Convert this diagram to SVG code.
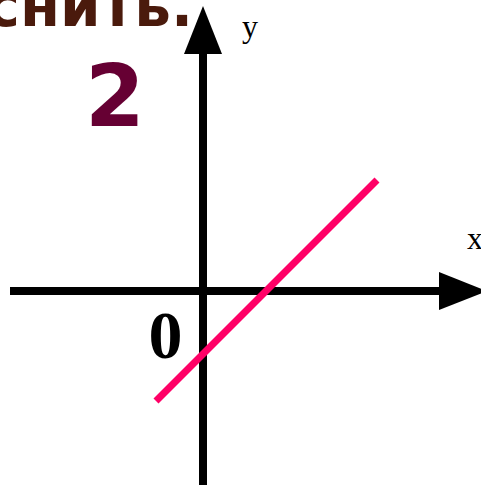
<svg xmlns="http://www.w3.org/2000/svg" width="481" height="485" viewBox="0 0 481 485">
<style>
.axis{stroke:#000;stroke-width:8;fill:none}
.graph{stroke:#FF0066;stroke-width:7;fill:none}
.lbl{font-family:"Liberation Serif","Times New Roman",serif;fill:#000}
.hand{font-family:"DejaVu Sans","Liberation Sans",sans-serif;font-weight:bold}
</style>
<defs>
<marker id="arr" viewBox="0 0 48 38" refX="0" refY="19" markerWidth="48" markerHeight="38" markerUnits="userSpaceOnUse" orient="auto">
<path d="M0,0 L48,19 L0,38 Z" fill="#000"/>
</marker>
</defs>
<rect width="481" height="485" fill="#fff"/>
<g id="title">
<text class="hand" x="193" y="26" font-size="58" fill="#4A1A0C" text-anchor="end">снить.</text>
</g>
<g id="number">
<text class="hand" x="115" y="126" font-size="86" fill="#660033" text-anchor="middle">2</text>
</g>
<g id="connectors">
<line id="y-axis" class="axis" x1="203" y1="485" x2="203" y2="54" marker-end="url(#arr)"/>
<line id="x-axis" class="axis" x1="10" y1="291" x2="439" y2="291" marker-end="url(#arr)"/>
</g>
<g id="graph-line">
<line class="graph" x1="156" y1="401" x2="377" y2="180"/>
</g>
<g id="labels">
<text class="lbl" x="242" y="37" font-size="32">y</text>
<text class="lbl" x="467" y="249" font-size="32">x</text>
<text class="lbl" x="165.5" y="358" font-size="68" font-weight="bold" text-anchor="middle">0</text>
</g>
</svg>
